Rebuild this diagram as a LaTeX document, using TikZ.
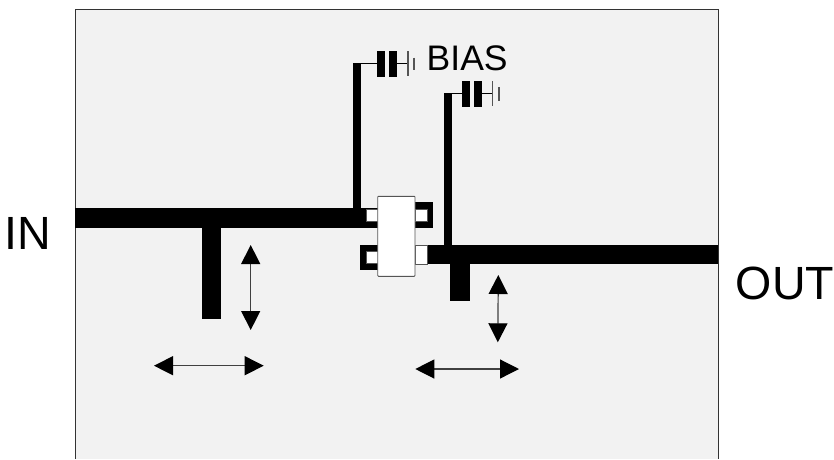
\documentclass[tikz,border=0pt]{standalone}
\usepackage{fontspec}
\setmainfont{Liberation Sans}
\usetikzlibrary{arrows.meta}
\definecolor{panel}{HTML}{F2F2F2}
\definecolor{edge}{HTML}{555555}
\tikzset{
  track/.style={fill=black,draw=none},
  padbox/.style={fill=white,draw=edge,line width=0.6pt},
  thinwire/.style={draw=black,line width=1.1pt},
  gndplate/.style={draw=edge,line width=1.2pt},
  dimarrow/.style={draw=black!75,line width=1.2pt,{Triangle[length=19pt,width=19pt,black]}-{Triangle[length=19pt,width=19pt,black]}},
  smalllabel/.style={font=\fontsize{35.5pt}{36pt}\selectfont,inner sep=0pt,anchor=base west},
  biglabel/.style={font=\fontsize{46.6pt}{48pt}\selectfont,inner sep=0pt,anchor=base west}
}
\begin{document}
\begin{tikzpicture}[x=1pt,y=-1pt]
\useasboundingbox (0,0) rectangle (834,459);
\fill[panel] (75.5,9.5) rectangle (718,459);
\draw[black!80,line width=1pt] (75.5,459) -- (75.5,9.5) -- (718,9.5) -- (718,459);
% tracks
\fill[track] (75,208.3) rectangle (378,227.7);
\fill[track] (202,227) rectangle (221.3,318.7);
\fill[track] (353.3,63) rectangle (361.3,209);
\fill[track] (427,245) rectangle (718,264);
\fill[track] (450.3,263) rectangle (469.7,300.7);
\fill[track] (444.3,93) rectangle (452,246);
\fill[track] (415,202) rectangle (433.3,227.7);
\fill[track] (359.7,244.7) rectangle (378,270.3);
% bias network 1
\coordinate (w1a) at (361,63.5);
\coordinate (c1a) at (377.5,63.5);
\coordinate (c1b) at (397,63.5);
\coordinate (g1) at (408,63.5);
\draw[thinwire] (w1a) -- (c1a);
\draw[thinwire] (c1b) -- (g1);
\fill[track] (377.3,51) rectangle (385,76.7);
\fill[track] (389.3,51) rectangle (397,76.7);
\draw[gndplate] (408,51) -- (408,76);
\draw[gndplate] (414,57.7) -- (414,70);
% bias network 2
\coordinate (w2a) at (452,93.5);
\coordinate (c2a) at (462,93.5);
\coordinate (c2b) at (482,93.5);
\coordinate (g2) at (492.7,93.5);
\draw[thinwire] (w2a) -- (c2a);
\draw[thinwire] (c2b) -- (g2);
\fill[track] (462,81) rectangle (470,106.7);
\fill[track] (474,81) rectangle (482,106.7);
\draw[gndplate] (492.7,81) -- (492.7,106);
\draw[gndplate] (499,87.3) -- (499,100.7);
% transistor
\filldraw[padbox] (366,209) rectangle (378,221);
\filldraw[padbox] (415,209) rectangle (427,221);
\filldraw[padbox] (366,251.3) rectangle (378,263.3);
\filldraw[padbox] (415,245.3) rectangle (427,264);
\filldraw[padbox,line width=0.9pt,rounded corners=0.8pt] (377.7,196.3) rectangle (415,276.3);
% arrows
\coordinate (a1t) at (250.7,245);
\coordinate (a1b) at (250.7,330);
\coordinate (a2l) at (154,365.7);
\coordinate (a2r) at (263.7,365.7);
\coordinate (a3t) at (498.3,275);
\coordinate (a3b) at (497.8,342.3);
\coordinate (a4l) at (415.3,369);
\coordinate (a4r) at (519,369);
\draw[dimarrow] (a1t) -- (a1b);
\draw[dimarrow] (a2l) -- (a2r);
\draw[dimarrow] (a3t) -- (a3b);
\draw[dimarrow] (a4l) -- (a4r);
% labels
\node[smalllabel] (bias) at (426.5,70.5) {BIAS};
\node[biglabel] (in) at (4.7,249.3) {IN};
\node[biglabel] (out) at (735.7,299.4) {OUT};
\end{tikzpicture}
\end{document}
